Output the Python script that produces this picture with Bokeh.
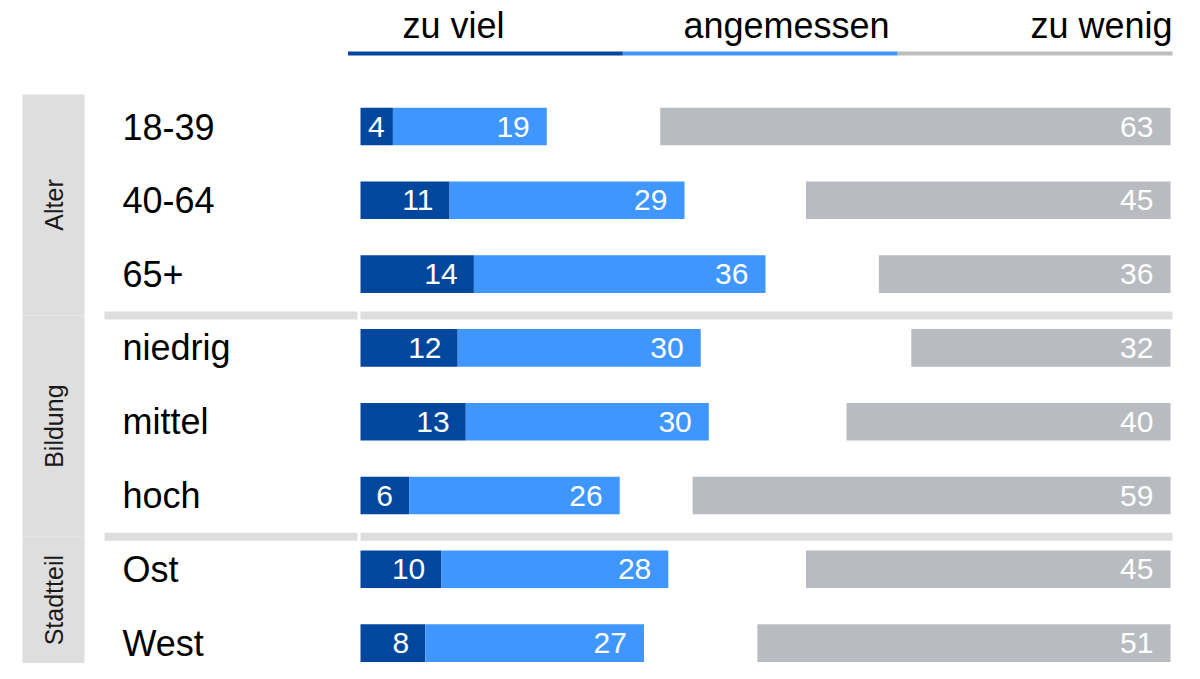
import math
from bokeh.plotting import figure
from bokeh.models import ColumnDataSource, Range1d
from bokeh.core.properties import value
from bokeh.embed import file_html
from bokeh.resources import INLINE

# ---- data ----
groups = ["Alter", "Alter", "Alter", "Bildung", "Bildung", "Bildung", "Stadtteil", "Stadtteil"]
categories = ["18-39", "40-64", "65+", "niedrig", "mittel", "hoch", "Ost", "West"]
zu_viel = [4, 11, 14, 12, 13, 6, 10, 8]
angemessen = [19, 29, 36, 30, 30, 26, 28, 27]
zu_wenig = [63, 45, 36, 32, 40, 59, 45, 51]
header_labels = ["zu viel", "angemessen", "zu wenig"]

# ---- style ----
FONT = "Liberation Sans"
C_DARK = "#00479D"
C_LIGHT = "#4096FF"
C_GRAY = "#B8BCC0"
C_HEAD_GRAY = "#BDBDBD"
C_STRIP = "#DEDEDE"

# scale: 100 units span the full bar area
TOTAL = 100
PX_PER_UNIT = 8.1
ROW_PX = 73.8
X0_PAGE = 360.0
Y0_PAGE = 126.0
W, H = 1184, 663

def ux(px):
    return (px - X0_PAGE) / PX_PER_UNIT

def uy(py):
    return (py - Y0_PAGE) / ROW_PX

p = figure(width=W, height=H,
           x_range=Range1d(ux(0), ux(W)),
           y_range=Range1d(uy(H), uy(0)),
           x_axis_type=None, y_axis_type=None,
           output_backend="svg", toolbar_location=None, min_border=0)
p.grid.visible = False
p.outline_line_color = None
p.background_fill_color = "white"
p.border_fill_color = "white"

n = len(categories)
ys = list(range(n))
cum = [a + b for a, b in zip(zu_viel, angemessen)]
src = ColumnDataSource(dict(
    y=ys, cat=categories,
    zv=zu_viel, ang=angemessen, zw=zu_wenig, cum=cum,
    zw_left=[TOTAL - v for v in zu_wenig], total=[TOTAL] * n,
    zero=[0] * n,
    zv_lab=[str(v) for v in zu_viel],
    ang_lab=[str(v) for v in angemessen],
    zw_lab=[str(v) for v in zu_wenig],
    zv_x=[max(v - 2, 3) for v in zu_viel],
    ang_x=[c - 2.1 for c in cum],
    zw_x=[TOTAL - 2.1] * n,
))

# ---- group strips & separators ----
group_names = []
for g in groups:
    if g not in group_names:
        group_names.append(g)
last_idx = [len(groups) - 1 - groups[::-1].index(g) for g in group_names]
sep_y = [li + 0.5 + 0.06 for li in last_idx[:-1]]
strip_top = [uy(94)] + sep_y
strip_bot = sep_y + [uy(H + 20)]
p.quad(left=ux(22), right=ux(84), top=strip_top, bottom=strip_bot,
       fill_color=C_STRIP, line_color=None)
strip_mid = [(a + b) / 2 for a, b in zip(strip_top, sep_y + [uy(H)])]
p.text(x=[(ux(22) + ux(84)) / 2] * len(group_names), y=strip_mid, text=group_names,
       angle=math.pi / 2, text_align="center", text_baseline="middle",
       text_font=value(FONT), text_font_size="25px", text_color="#1A1A1A")

p.segment(x0=[ux(104)] * len(sep_y), x1=[ux(357)] * len(sep_y), y0=sep_y, y1=sep_y,
          line_color=C_STRIP, line_width=8)
p.segment(x0=[0] * len(sep_y), x1=[ux(1172)] * len(sep_y), y0=sep_y, y1=sep_y,
          line_color=C_STRIP, line_width=8)

# ---- bars ----
BH = 0.51
p.hbar(y="y", left="zero", right="zv", height=BH, source=src, fill_color=C_DARK, line_color=None)
p.hbar(y="y", left="zv", right="cum", height=BH, source=src, fill_color=C_LIGHT, line_color=None)
p.hbar(y="y", left="zw_left", right="total", height=BH, source=src, fill_color=C_GRAY, line_color=None)

lab_kw = dict(text_align="right", text_baseline="middle", text_font=value(FONT),
              text_font_size="30px", text_color="white", source=src)
p.text(x="zv_x", y="y", text="zv_lab", **lab_kw)
p.text(x="ang_x", y="y", text="ang_lab", **lab_kw)
p.text(x="zw_x", y="y", text="zw_lab", **lab_kw)

# ---- row labels ----
p.text(x=ux(122), y="y", text="cat", source=src, text_align="left", text_baseline="middle",
       text_font=value(FONT), text_font_size="36px", text_color="black")

# ---- header ----
h_left, h_right = ux(347.5), ux(1172)
step = (h_right - h_left) / 3
hx0 = [h_left + i * step for i in range(3)]
hx1 = [h_left + (i + 1) * step for i in range(3)]
hy = uy(53)
p.segment(x0=hx0, x1=hx1, y0=[hy] * 3, y1=[hy] * 3,
          line_color=[C_DARK, C_LIGHT, C_HEAD_GRAY], line_width=4)
head_x = [ux(453), ux(786), ux(1172)]
head_align = ["center", "center", "right"]
p.text(x=head_x, y=[uy(25)] * 3, text=header_labels, text_align=head_align,
       text_baseline="middle", text_font=value(FONT), text_font_size="36px",
       text_color="black")

open("out.html", "w").write(file_html(p, INLINE))
